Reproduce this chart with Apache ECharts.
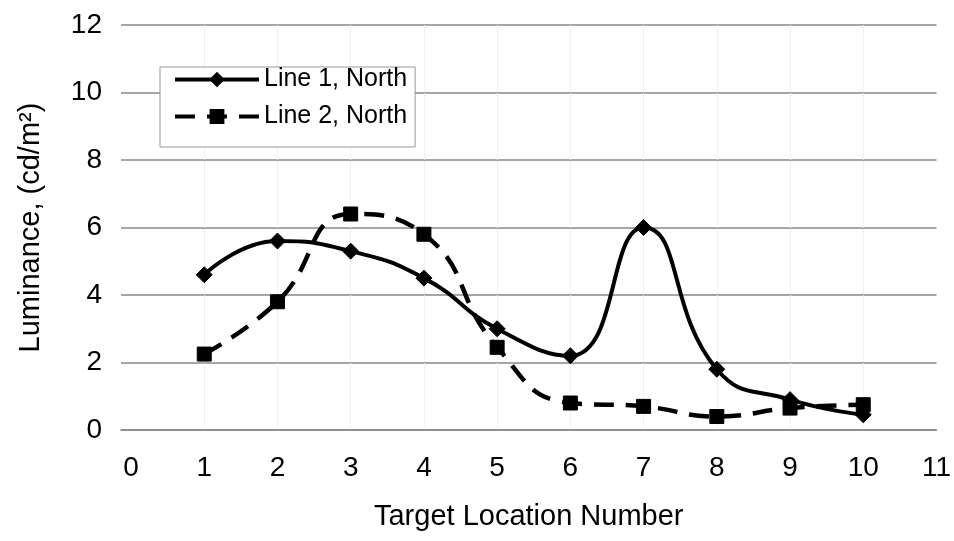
<!DOCTYPE html>
<html>
<head>
<meta charset="utf-8">
<script src="https://cdn.jsdelivr.net/npm/echarts@6/dist/echarts.min.js"></script>
<style>
html,body{margin:0;padding:0;background:#fff;}
#chart{width:954px;height:541px;}
</style>
</head>
<body>
<div id="chart"></div>
<script>
const xTicks = [0, 1, 2, 3, 4, 5, 6, 7, 8, 9, 10, 11];
const yTicks = [0, 2, 4, 6, 8, 10, 12];
const locations = [1, 2, 3, 4, 5, 6, 7, 8, 9, 10];
const line1North = [4.6, 5.6, 5.3, 4.5, 3.0, 2.2, 6.0, 1.8, 0.9, 0.45];
const line2North = [2.25, 3.8, 6.4, 5.8, 2.45, 0.8, 0.7, 0.4, 0.65, 0.75];
const seriesNames = ['Line 1, North', 'Line 2, North'];
const xTitle = 'Target Location Number';
const yTitle = 'Luminance, (cd/m\u00B2)';

const FONT = '"Liberation Sans", Arial, sans-serif';
const pair = (xs, ys) => xs.map((x, i) => [x, ys[i]]);

const chart = echarts.init(document.getElementById('chart'), null, {renderer: 'canvas'});
chart.setOption({
  backgroundColor: '#ffffff',
  animation: false,
  textStyle: {fontFamily: FONT, color: '#000'},
  grid: {left: 121, right: 17, top: 25, bottom: 111, containLabel: false},
  legend: {
    orient: 'vertical',
    left: 160,
    top: 67,
    padding: [0, 8, 18, 13],
    itemGap: 12,
    itemWidth: 84,
    itemHeight: 16,
    backgroundColor: '#fff',
    borderColor: '#999',
    borderWidth: 1,
    data: seriesNames,
    lineStyle: {width: 4},
    textStyle: {fontFamily: FONT, fontSize: 25, color: '#000', lineHeight: 25}
  },
  xAxis: {
    type: 'value',
    min: -0.137,
    max: 11,
    name: xTitle,
    nameLocation: 'middle',
    nameGap: 72,
    nameTextStyle: {fontFamily: FONT, fontSize: 29, color: '#000'},
    axisLine: {show: true, onZero: false, lineStyle: {color: '#888', width: 1.5}},
    axisTick: {show: false, customValues: xTicks},
    axisLabel: {customValues: xTicks, fontFamily: FONT, fontSize: 28, color: '#000', margin: 24},
    splitLine: {show: false}
  },
  yAxis: {
    type: 'value',
    min: 0,
    max: 12,
    interval: 2,
    name: yTitle,
    nameLocation: 'middle',
    nameGap: 76,
    nameTextStyle: {fontFamily: FONT, fontSize: 29, color: '#000'},
    axisLine: {show: false},
    axisTick: {show: false},
    axisLabel: {fontFamily: FONT, fontSize: 28, color: '#000', margin: 19},
    splitLine: {show: true, lineStyle: {color: '#888', width: 1.5}}
  },
  series: [
    {
      name: 'gridlines',
      type: 'line',
      data: [],
      z: 0,
      silent: true,
      markLine: {
        z: 0,
        silent: true,
        symbol: 'none',
        label: {show: false},
        lineStyle: {color: '#e2e2e2', type: 'dotted', width: 1},
        data: xTicks.slice(1, 11).map(v => ({xAxis: v}))
      }
    },
    {
      name: seriesNames[0],
      type: 'line',
      data: pair(locations, line1North),
      smooth: 0.5,
      symbol: 'diamond',
      symbolSize: 16,
      itemStyle: {color: '#000', borderColor: '#000', borderWidth: 1, opacity: 1},
      lineStyle: {color: '#000', width: 4, type: 'solid'},
      z: 3
    },
    {
      name: seriesNames[1],
      type: 'line',
      data: pair(locations, line2North),
      smooth: 0.5,
      symbol: 'rect',
      symbolSize: 14,
      itemStyle: {color: '#000', borderColor: '#000', borderWidth: 1, opacity: 1},
      lineStyle: {color: '#000', width: 4.5, type: [20, 12]},
      z: 2
    }
  ]
});
</script>
</body>
</html>
